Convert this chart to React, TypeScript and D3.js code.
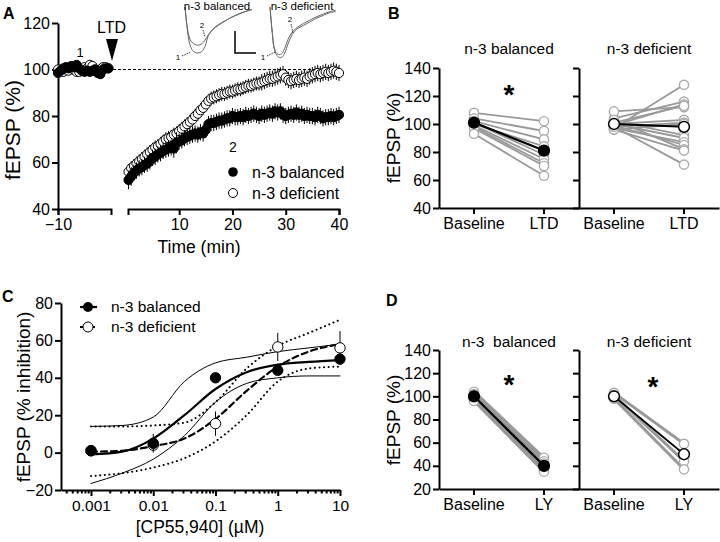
import React, { useEffect, useRef } from "react";
import * as d3 from "d3";

const FONT = "'Liberation Sans', Arial, Helvetica, sans-serif";

// ---------- Panel A: time course, fEPSP (% of baseline) ----------
// baseline samples every 0.5 min from -10 to -0.5
const baselineBalanced = [98.5, 99.5, 100.5, 101, 100.5, 101.5, 101, 102, 100.5, 99.5, 99, 99.5, 99, 99.5, 100, 98.5, 98, 100, 100.5, 100.5];
const baselineDeficient = [100, 99.5, 99, 100, 99.5, 100.5, 100, 99, 99, 99.5, 101, 100.5, 102, 101.5, 100, 99.5, 100, 101, 101, 100.5];
// after LTD induction, every 0.5 min from 0.5 to 40
const ltdBalanced = [
  52.5, 54, 55.5, 56.5, 57.5, 58, 59, 59.5, 60.5, 62,
  62.5, 63.5, 64, 65, 65.5, 66, 66.5, 66, 68.5, 69,
  69.5, 70.5, 71, 71.5, 72, 72.5, 72, 73, 72.5, 74,
  76.5, 77, 77, 77.5, 78, 78, 78.5, 79, 79, 80,
  79.5, 79.5, 80, 79.5, 80.5, 80, 80.5, 81, 80.5, 80,
  81, 80.5, 81, 81.5, 81, 82, 81.5, 82, 80.5, 80,
  80.5, 81, 80.5, 81.5, 80.5, 81, 80, 80.5, 80, 80,
  79.5, 80.5, 80, 79, 79.5, 79.5, 80, 79.5, 80, 80.5,
];
const ltdDeficient = [
  56, 57.5, 58.5, 59.5, 60.5, 61.5, 62.5, 63.5, 64.5, 65.5,
  66.5, 67, 68, 69, 70, 70.5, 71, 72, 72.5, 73.5,
  74.5, 75.5, 76.5, 77.5, 78.5, 80, 81, 82.5, 83.5, 85,
  86.5, 87.5, 88, 88.5, 89, 89.5, 89.5, 90, 90.5, 90.5,
  91, 91.5, 91.5, 92, 92.5, 93, 93, 93.5, 94, 94,
  94.5, 95, 95.5, 96, 96, 96.5, 97, 97.5, 98, 96.5,
  95.5, 95, 95.5, 96, 95.5, 96, 96.5, 96, 97, 97.5,
  98, 98.5, 98, 98.5, 99, 98.5, 99, 99.5, 99, 98.5,
];
const semLtdBalanced = [
  4, 4, 3.5, 3.5, 3.5, 3.5, 3.5, 3.5, 3.5, 3.5,
  3.5, 3.5, 3.5, 3.5, 3.5, 3.5, 3.5, 4, 4.5, 3.5,
  3.5, 3.5, 3.5, 3.5, 3.5, 3.5, 3.5, 3.5, 3.5, 3.5,
  3.5, 3.5, 3.5, 3.5, 3.5, 3.5, 3.5, 3.5, 3.5, 3.5,
  3.5, 3.5, 3.5, 3.5, 3.5, 3.5, 3.5, 3.5, 3.5, 3.5,
  3.5, 3.5, 3.5, 3.5, 3.5, 3.5, 3.5, 3.5, 3.5, 3.5,
  3.5, 3.5, 3.5, 3.5, 3.5, 3.5, 3.5, 3.5, 3.5, 3.5,
  3.5, 3.5, 3.5, 3.5, 3.5, 3.5, 3.5, 3.5, 3.5, 3.5,
];
const semLtdDeficient = [
  3, 3, 3, 3, 3, 3, 3, 3, 3, 3,
  3, 3, 3, 3, 3, 3, 3, 3, 3, 3,
  3, 3, 3, 3, 3, 3, 3, 3, 3, 3,
  3, 3, 3, 3, 3, 3, 3, 3, 3, 3,
  3, 3, 3, 3, 3, 3, 3, 3, 3, 3,
  3.5, 3.5, 3.5, 3.5, 3.5, 3.5, 3.5, 3.5, 3.5, 3.5,
  3.5, 3.5, 3.5, 3.5, 3.5, 3.5, 3.5, 3.5, 3.5, 3.5,
  3.5, 3.5, 3.5, 3.5, 3.5, 3.5, 3.5, 3.5, 3.5, 3.5,
];

// example traces (ms, relative amplitude)
const traceBal1: [number, number][] = [[0, 0], [0.4, -0.55], [0.8, -0.85], [1.3, -0.97], [1.9, -1.0], [2.5, -0.97], [3.0, -0.85], [3.5, -0.62], [4.2, -0.48], [5, -0.4], [6, -0.3], [7, -0.22], [8, -0.15], [9, -0.1], [10, -0.05]];
const traceBal2: [number, number][] = [[0, 0], [0.4, -0.5], [0.8, -0.72], [1.3, -0.8], [1.9, -0.83], [2.5, -0.8], [3.0, -0.72], [3.5, -0.6], [4.2, -0.48], [5, -0.38], [6, -0.3], [7, -0.22], [8, -0.16], [9, -0.1], [10, -0.06]];
const traceDef1: [number, number][] = [[0, 0], [0.3, -0.5], [0.7, -0.95], [1.2, -1.08], [1.7, -1.1], [2.2, -1.0], [2.7, -0.8], [3.3, -0.6], [4, -0.48], [5, -0.4], [6, -0.32], [7, -0.24], [8, -0.18], [9, -0.12], [9.8, -0.1]];
const traceDef2: [number, number][] = [[0, 0], [0.3, -0.5], [0.7, -0.92], [1.2, -1.03], [1.7, -1.02], [2.2, -0.9], [2.7, -0.7], [3.3, -0.55], [4, -0.45], [5, -0.36], [6, -0.28], [7, -0.21], [8, -0.15], [9, -0.1], [9.8, -0.07]];

// ---------- Panel B: individual slices, baseline vs LTD ----------
const ltdCats = ["Baseline", "LTD"];
const bBalancedPairs = [[108, 102], [104, 95], [102, 89], [100, 84], [101, 78], [99, 75], [98, 72], [97, 70], [93, 63]];
const bBalancedMean = [101, 81];
const bDeficientPairs = [[97, 128], [104, 116], [99, 114], [109, 112], [101, 113], [100, 103], [98, 101], [96, 100], [102, 92], [100, 90], [97, 87], [99, 85], [103, 82], [96, 81], [98, 71]];
const bDeficientMean = [100, 98];

// ---------- Panel C: CP55,940 concentration-response ----------
const concs = [0.001, 0.01, 0.1, 1, 10];
const cBalanced = [1, 5, 40, 44, 50];
const cBalancedSem = [1, 5, 2, 2, 2];
const cDeficient = [1, 4, 15.5, 56.5, 56];
const cDeficientSem = [1, 2, 6.5, 7.5, 9];
// fitted curves and 95% bands, read every half decade from 0.001 to 10
const fitLogGrid = [-3, -2.5, -2, -1.5, -1, -0.5, 0, 0.5, 1];
const fitBalanced = [-1, 0.5, 7.5, 20, 34, 43, 47, 48.5, 49.5];
const bandBalancedUpper = [14, 14.5, 19, 38, 48, 51, 54, 56, 58];
const bandBalancedLower = [-16.5, -11, -3.5, 9, 27, 37, 40, 41, 41];
const fitDeficient = [0.5, 1, 3.5, 7.5, 18, 33, 46, 54, 58];
const bandDeficientUpper = [14, 14, 14.5, 16, 27, 45, 57, 64, 71];
const bandDeficientLower = [-12.5, -11, -8, -3, 6, 20, 38, 45, 46];
const cDecadeLabels = ["0.001", "0.01", "0.1", "1", "10"];

// ---------- Panel D: LY341495 ----------
const lyCats = ["Baseline", "LY"];
const dBalancedPairs = [[104, 47], [102, 44], [101, 42], [99, 38], [97, 36], [96, 35]];
const dBalancedMean = [100, 40];
const dDeficientPairs = [[103, 59], [101, 44], [98, 37]];
const dDeficientMean = [100, 50];

export default function App() {
  const svgRef = useRef<SVGSVGElement>(null);

  useEffect(() => {
    draw();
  }, []);

  const styleAxis = (g: any, size = 16) => {
    g.attr("font-family", FONT).attr("font-size", size);
    g.selectAll(".domain").attr("stroke-width", 2);
    g.selectAll(".tick line").attr("stroke-width", 2);
    g.selectAll(".tick text").attr("fill", "#000");
  };

  const addText = (svg: any, x: number, y: number, str: string, size: number, opts: any = {}) => {
    const t = svg
      .append("text")
      .attr("x", x)
      .attr("y", y)
      .attr("fill", "#000")
      .attr("font-family", FONT)
      .attr("font-size", size)
      .attr("text-anchor", opts.anchor || "start")
      .attr("font-weight", opts.bold ? "bold" : "normal")
      .style("white-space", "pre")
      .text(str);
    if (opts.rotate) t.attr("transform", `rotate(-90,${x},${y})`);
    return t;
  };

  const draw = () => {
    const svg = d3.select(svgRef.current);
    svg.selectAll("*").remove();
    svg.append("rect").attr("width", 720).attr("height", 542).attr("fill", "#fff");

    // ================= A =================
    const yA = d3.scaleLinear().domain([40, 120]).range([209, 23]);
    const xA1 = d3.scaleLinear().domain([-10, 0]).range([58, 111]);
    const xA2 = d3.scaleLinear().domain([0.4, 40]).range([128, 339]);

    svg.append("g").attr("transform", "translate(58,0)")
      .call(d3.axisLeft(yA).tickValues([40, 60, 80, 100, 120]).tickSize(6).tickSizeOuter(0).tickPadding(2))
      .call((g) => styleAxis(g, 16));
    svg.append("g").attr("transform", "translate(0,209)")
      .call(d3.axisBottom(xA1).tickValues([-10]).tickSize(6).tickSizeOuter(6).tickPadding(4))
      .call((g) => styleAxis(g, 16));
    svg.append("g").attr("transform", "translate(0,209)")
      .call(d3.axisBottom(xA2).tickValues([10, 20, 30, 40]).tickSize(6).tickSizeOuter(6).tickPadding(4))
      .call((g) => styleAxis(g, 16));

    // dashed 100% line
    svg.append("line")
      .attr("x1", xA1(0) + 2).attr("x2", xA2(40))
      .attr("y1", yA(100)).attr("y2", yA(100))
      .attr("stroke", "#000").attr("stroke-width", 1).attr("stroke-dasharray", "3,2");

    const baseT = baselineBalanced.map((_, i) => -10 + i * 0.5);
    const ltdT = ltdBalanced.map((_, i) => 0.5 + i * 0.5);

    const drawSeries = (vals: number[], sems: number[] | null, times: number[], xs: any, filled: boolean) => {
      const g = svg.append("g");
      if (sems) {
        g.selectAll("line").data(vals).join("line")
          .attr("x1", (d, i) => xs(times[i])).attr("x2", (d, i) => xs(times[i]))
          .attr("y1", (d, i) => yA(d - sems[i])).attr("y2", (d, i) => yA(d + sems[i]))
          .attr("stroke", "#000").attr("stroke-width", 1);
      }
      g.selectAll("circle").data(vals).join("circle")
        .attr("cx", (d, i) => xs(times[i])).attr("cy", (d) => yA(d)).attr("r", 4.6)
        .attr("fill", filled ? "#000" : "#fff").attr("stroke", "#000").attr("stroke-width", 1);
    };
    drawSeries(baselineDeficient, null, baseT, xA1, false);
    drawSeries(baselineBalanced, null, baseT, xA1, true);
    drawSeries(ltdDeficient, semLtdDeficient, ltdT, xA2, false);
    drawSeries(ltdBalanced, semLtdBalanced, ltdT, xA2, true);

    addText(svg, 3, 19, "A", 16, { bold: true });
    addText(svg, 97, 33, "LTD", 16);
    svg.append("path").attr("d", "M106,39 L118,39 L112,61 Z").attr("fill", "#000");
    addText(svg, 80, 57, "1", 13, { anchor: "middle" });
    addText(svg, 233, 152, "2", 14, { anchor: "middle" });
    addText(svg, 20, 130, "fEPSP (%)", 21, { anchor: "middle", rotate: true });
    addText(svg, 199, 253, "Time (min)", 17.5, { anchor: "middle" });

    // legend A
    svg.append("circle").attr("cx", 233).attr("cy", 172).attr("r", 4.8).attr("fill", "#000");
    svg.append("circle").attr("cx", 233).attr("cy", 193).attr("r", 4.5).attr("fill", "#fff").attr("stroke", "#000");
    addText(svg, 252, 178, "n-3 balanced", 16);
    addText(svg, 252, 199, "n-3 deficient", 16);

    // inset traces
    const tyS = d3.scaleLinear().domain([0, -1]).range([7, 53]);
    const txBal = d3.scaleLinear().domain([0, 10]).range([185, 252]);
    const txDef = d3.scaleLinear().domain([0, 10]).range([270, 337]);
    const traceLine = (xs: any) => d3.line<[number, number]>().x((d) => xs(d[0])).y((d) => tyS(d[1])).curve(d3.curveCatmullRom);
    [[traceBal1, txBal], [traceBal2, txBal], [traceDef1, txDef], [traceDef2, txDef]].forEach(([tr, xs]: any) => {
      svg.append("path").attr("d", traceLine(xs)(tr)).attr("fill", "none").attr("stroke", "#666").attr("stroke-width", 1);
    });
    addText(svg, 217, 10, "n-3 balanced", 11.5, { anchor: "middle" });
    addText(svg, 302, 10, "n-3 deficient", 11.5, { anchor: "middle" });
    svg.append("path").attr("d", "M235,31 V53 H256").attr("fill", "none").attr("stroke", "#000").attr("stroke-width", 1.5);
    const arrows = [
      { lab: "1", lx: 178, ly: 60, x1: 182, y1: 56, x2: 191, y2: 52 },
      { lab: "2", lx: 202, ly: 28, x1: 203, y1: 30, x2: 205, y2: 37 },
      { lab: "1", lx: 263, ly: 60, x1: 267, y1: 56, x2: 275, y2: 52 },
      { lab: "2", lx: 290, ly: 22, x1: 291, y1: 24, x2: 293, y2: 33 },
    ];
    arrows.forEach((a) => {
      svg.append("line").attr("x1", a.x1).attr("y1", a.y1).attr("x2", a.x2).attr("y2", a.y2)
        .attr("stroke", "#000").attr("stroke-width", 0.8).attr("stroke-dasharray", "1.5,1");
      addText(svg, a.lx, a.ly, a.lab, 8, { anchor: "middle" });
    });

    // ================= B & D: paired plots =================
    const drawPaired = (o: any) => {
      const band = d3.scaleBand().domain(o.cats).range([o.x0, o.x0 + 140]).padding(0);
      const cx = (c: string) => (band(c) as number) + band.bandwidth() / 2;
      svg.append("g").attr("transform", `translate(${o.x0},0)`)
        .call(d3.axisLeft(o.y).tickValues(o.ticks).tickSize(6).tickSizeOuter(0).tickPadding(2)
          .tickFormat(o.labels ? (d: any) => `${d}` : () => ""))
        .call((g) => styleAxis(g, 16));
      svg.append("g").attr("transform", `translate(0,${o.y.range()[0]})`)
        .call(d3.axisBottom(band).tickSize(6).tickSizeOuter(0).tickPadding(4))
        .call((g) => styleAxis(g, 16));

      const g = svg.append("g");
      g.selectAll("line.ind").data(o.pairs).join("line").attr("class", "ind")
        .attr("x1", cx(o.cats[0])).attr("x2", cx(o.cats[1]))
        .attr("y1", (d: any) => o.y(d[0])).attr("y2", (d: any) => o.y(d[1]))
        .attr("stroke", "#999").attr("stroke-width", o.grayW);
      o.pairs.forEach((p: number[]) => {
        p.forEach((v, k) => {
          g.append("circle").attr("cx", cx(o.cats[k])).attr("cy", o.y(v)).attr("r", 4.6)
            .attr("fill", "#fff").attr("stroke", "#aaa").attr("stroke-width", 1.4);
        });
      });
      g.append("line").attr("x1", cx(o.cats[0])).attr("x2", cx(o.cats[1]))
        .attr("y1", o.y(o.mean[0])).attr("y2", o.y(o.mean[1]))
        .attr("stroke", "#000").attr("stroke-width", o.meanW);
      o.mean.forEach((v: number, k: number) => {
        g.append("circle").attr("cx", cx(o.cats[k])).attr("cy", o.y(v)).attr("r", 5.4)
          .attr("fill", o.filled ? "#000" : "#fff").attr("stroke", "#000").attr("stroke-width", 1.5);
      });
      addText(svg, o.x0 + 70, o.titleY, o.title, 15.5, { anchor: "middle" });
      if (o.star) addText(svg, o.star[0], o.star[1] + 16, "*", 28, { anchor: "middle", bold: true });
    };

    const yB = d3.scaleLinear().domain([40, 140]).range([208, 68]);
    const ticksB = [40, 60, 80, 100, 120, 140];
    drawPaired({ x0: 439, y: yB, ticks: ticksB, labels: true, cats: ltdCats, pairs: bBalancedPairs, mean: bBalancedMean, filled: true, title: "n-3 balanced", titleY: 54, star: [509, 88], grayW: 1.8, meanW: 2.2 });
    drawPaired({ x0: 579, y: yB, ticks: ticksB, labels: false, cats: ltdCats, pairs: bDeficientPairs, mean: bDeficientMean, filled: false, title: "n-3 deficient", titleY: 54, star: null, grayW: 1.8, meanW: 2 });
    addText(svg, 388, 19, "B", 16, { bold: true });
    addText(svg, 400, 138, "fEPSP (%)", 19, { anchor: "middle", rotate: true });

    const yD = d3.scaleLinear().domain([20, 140]).range([489, 350]);
    const ticksD = [20, 40, 60, 80, 100, 120, 140];
    drawPaired({ x0: 439, y: yD, ticks: ticksD, labels: true, cats: lyCats, pairs: dBalancedPairs, mean: dBalancedMean, filled: true, title: "n-3  balanced", titleY: 347, star: [509, 378], grayW: 3, meanW: 2.2 });
    drawPaired({ x0: 579, y: yD, ticks: ticksD, labels: false, cats: lyCats, pairs: dDeficientPairs, mean: dDeficientMean, filled: false, title: "n-3 deficient", titleY: 347, star: [653, 380], grayW: 3, meanW: 1.8 });
    addText(svg, 386, 306, "D", 16, { bold: true });
    addText(svg, 400, 420, "fEPSP (%)", 19, { anchor: "middle", rotate: true });

    // ================= C =================
    const yC = d3.scaleLinear().domain([-20, 80]).range([490, 303]);
    const xC = d3.scaleLog().domain([Math.pow(10, -3.482), 10]).range([61, 340]);
    svg.append("g").attr("transform", "translate(61,0)")
      .call(d3.axisLeft(yC).tickValues([-20, 0, 20, 40, 60, 80]).tickSize(6).tickSizeOuter(0).tickPadding(2))
      .call((g) => styleAxis(g, 16));
    const minorTicks: number[] = [];
    [0.0001, 0.001, 0.01, 0.1, 1].forEach((dec) => {
      for (let k = 1; k <= 9; k++) {
        const v = dec * k;
        if (v >= xC.domain()[0] && v <= 10) minorTicks.push(v);
      }
    });
    minorTicks.push(10);
    const gx = svg.append("g").attr("transform", "translate(0,490)")
      .call(d3.axisBottom(xC).tickValues(minorTicks).tickSize(6).tickSizeOuter(0).tickPadding(4)
        .tickFormat((d: any) => {
          const idx = concs.findIndex((c) => Math.abs(c - d) / c < 1e-6);
          return idx >= 0 ? cDecadeLabels[idx] : "";
        }))
      .call((g) => styleAxis(g, 15.5));
    gx.selectAll(".tick line").attr("y2", (d: any) => (concs.some((c) => Math.abs(c - d) / c < 1e-6) ? 6 : 3.5));

    const curve = (vals: number[]) =>
      d3.line<number>().x((d, i) => xC(Math.pow(10, fitLogGrid[i]))).y((d) => yC(d)).curve(d3.curveMonotoneX)(vals);
    const curves = [
      { v: bandBalancedUpper, w: 1, dash: null },
      { v: bandBalancedLower, w: 1, dash: null },
      { v: bandDeficientUpper, w: 2, dash: "0.1,4.5" },
      { v: bandDeficientLower, w: 2, dash: "0.1,4.5" },
      { v: fitDeficient, w: 2.2, dash: "6,4" },
      { v: fitBalanced, w: 2.2, dash: null },
    ];
    curves.forEach((c) => {
      svg.append("path").attr("d", curve(c.v)).attr("fill", "none").attr("stroke", "#000")
        .attr("stroke-width", c.w).attr("stroke-linecap", "round")
        .attr("stroke-dasharray", c.dash);
    });

    const drawDose = (vals: number[], sems: number[], filled: boolean) => {
      const g = svg.append("g");
      g.selectAll("line").data(vals).join("line")
        .attr("x1", (d, i) => xC(concs[i])).attr("x2", (d, i) => xC(concs[i]))
        .attr("y1", (d, i) => yC(d - sems[i])).attr("y2", (d, i) => yC(d + sems[i]))
        .attr("stroke", "#000").attr("stroke-width", 1);
      g.selectAll("circle").data(vals).join("circle")
        .attr("cx", (d, i) => xC(concs[i])).attr("cy", (d) => yC(d)).attr("r", 5.2)
        .attr("fill", filled ? "#000" : "#fff").attr("stroke", "#000").attr("stroke-width", 1);
    };
    drawDose(cDeficient, cDeficientSem, false);
    drawDose(cBalanced, cBalancedSem, true);

    // legend C
    svg.append("line").attr("x1", 80).attr("x2", 97).attr("y1", 307).attr("y2", 307).attr("stroke", "#000").attr("stroke-width", 2.2);
    svg.append("circle").attr("cx", 88).attr("cy", 307).attr("r", 5).attr("fill", "#000");
    svg.append("line").attr("x1", 80).attr("x2", 97).attr("y1", 327).attr("y2", 327).attr("stroke", "#000").attr("stroke-width", 2).attr("stroke-dasharray", "3,3");
    svg.append("circle").attr("cx", 88).attr("cy", 327).attr("r", 5).attr("fill", "#fff").attr("stroke", "#000");
    addText(svg, 111, 312, "n-3 balanced", 15.5);
    addText(svg, 111, 332, "n-3 deficient", 15.5);

    addText(svg, 2, 302, "C", 16, { bold: true });
    addText(svg, 30, 397, "fEPSP (% inhibition)", 19, { anchor: "middle", rotate: true });
    addText(svg, 200, 533, "[CP55,940] (\u00b5M)", 17.5, { anchor: "middle" });
  };

  return (
    <svg
      ref={svgRef}
      width={720}
      height={542}
      style={{ position: "absolute", left: 0, top: 0, display: "block" }}
    ></svg>
  );
}
